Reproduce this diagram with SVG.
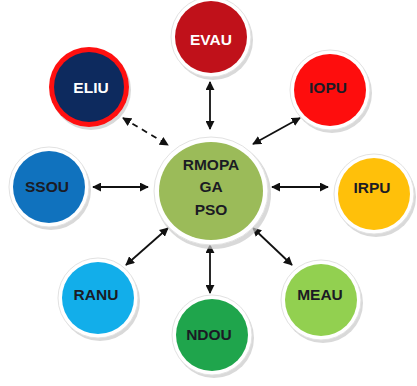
<svg xmlns="http://www.w3.org/2000/svg" width="417" height="386" viewBox="0 0 417 386">
<style>
.sh{fill:#c9c9c9;opacity:0.7}
.rim{fill:#ffffff;stroke:#e2e2e2;stroke-width:1}
.t{font-family:"Liberation Sans",Arial,sans-serif;font-weight:bold;font-size:15.5px;text-anchor:middle;fill:#1b1b24}
.w{fill:#ffffff}
.c{stroke:#111111;stroke-width:1.8;fill:none;marker-start:url(#ah);marker-end:url(#ah)}
</style>
<defs>
<marker id="ah" viewBox="0 0 10 10" refX="9" refY="5" markerWidth="9" markerHeight="9" orient="auto-start-reverse" markerUnits="userSpaceOnUse">
<path d="M0,0 L10,5 L0,10 z" fill="#111111"/>
</marker>
</defs>
<g id="connectors">
<line class="c" x1="210" y1="82" x2="210" y2="129"/>
<line class="c" x1="123" y1="118" x2="168" y2="145" stroke-dasharray="6,5"/>
<line class="c" x1="300" y1="118" x2="253" y2="144"/>
<line class="c" x1="93" y1="187" x2="148" y2="187"/>
<line class="c" x1="272" y1="187" x2="328" y2="187"/>
<line class="c" x1="126" y1="265" x2="168" y2="228"/>
<line class="c" x1="210" y1="245" x2="210" y2="293"/>
<line class="c" x1="253" y1="228" x2="292" y2="265"/>
</g>
<g id="center">
<ellipse class="sh" cx="213" cy="194" rx="58" ry="55"/>
<ellipse class="rim" cx="211" cy="191" rx="57" ry="54"/>
<ellipse cx="211" cy="191" rx="52" ry="49" fill="#9bbb59"/>
<text class="t" x="211" y="170">RMOPA</text>
<text class="t" x="211" y="192">GA</text>
<text class="t" x="211" y="215">PSO</text>
</g>
<g id="evau">
<circle class="sh" cx="213" cy="40" r="40"/>
<circle class="rim" cx="211" cy="37" r="40"/>
<circle cx="211" cy="37" r="36" fill="#c0111a"/>
<text class="t w" x="211" y="45">EVAU</text>
</g>
<g id="eliu">
<circle class="sh" cx="91" cy="90" r="40"/>
<circle cx="89" cy="87" r="40" fill="#ff1010"/>
<circle cx="89" cy="87" r="35" fill="#0d2a5e"/>
<text class="t w" x="91" y="93">ELIU</text>
</g>
<g id="iopu">
<circle class="sh" cx="332" cy="93" r="40"/>
<circle class="rim" cx="330" cy="90" r="40"/>
<circle cx="330" cy="90" r="36" fill="#fe0d0d"/>
<text class="t" x="328" y="93">IOPU</text>
</g>
<g id="ssou">
<circle class="sh" cx="51" cy="190" r="40"/>
<circle class="rim" cx="49" cy="187" r="40"/>
<circle cx="49" cy="187" r="36" fill="#1072be"/>
<text class="t" x="47" y="192">SSOU</text>
</g>
<g id="irpu">
<circle class="sh" cx="376" cy="197" r="40"/>
<circle class="rim" cx="374" cy="194" r="40"/>
<circle cx="374" cy="194" r="36" fill="#ffc00a"/>
<text class="t" x="372" y="193">IRPU</text>
</g>
<g id="ranu">
<circle class="sh" cx="100" cy="301" r="40"/>
<circle class="rim" cx="98" cy="298" r="40"/>
<circle cx="98" cy="298" r="36" fill="#12aeea"/>
<text class="t" x="96" y="300">RANU</text>
</g>
<g id="ndou">
<circle class="sh" cx="214" cy="338" r="40"/>
<circle class="rim" cx="212" cy="335" r="40"/>
<circle cx="212" cy="335" r="36" fill="#1fa54c"/>
<text class="t" x="209" y="340">NDOU</text>
</g>
<g id="meau">
<circle class="sh" cx="323" cy="303" r="40"/>
<circle class="rim" cx="321" cy="300" r="40"/>
<circle cx="321" cy="300" r="36" fill="#92d050"/>
<text class="t" x="320" y="300">MEAU</text>
</g>
</svg>
